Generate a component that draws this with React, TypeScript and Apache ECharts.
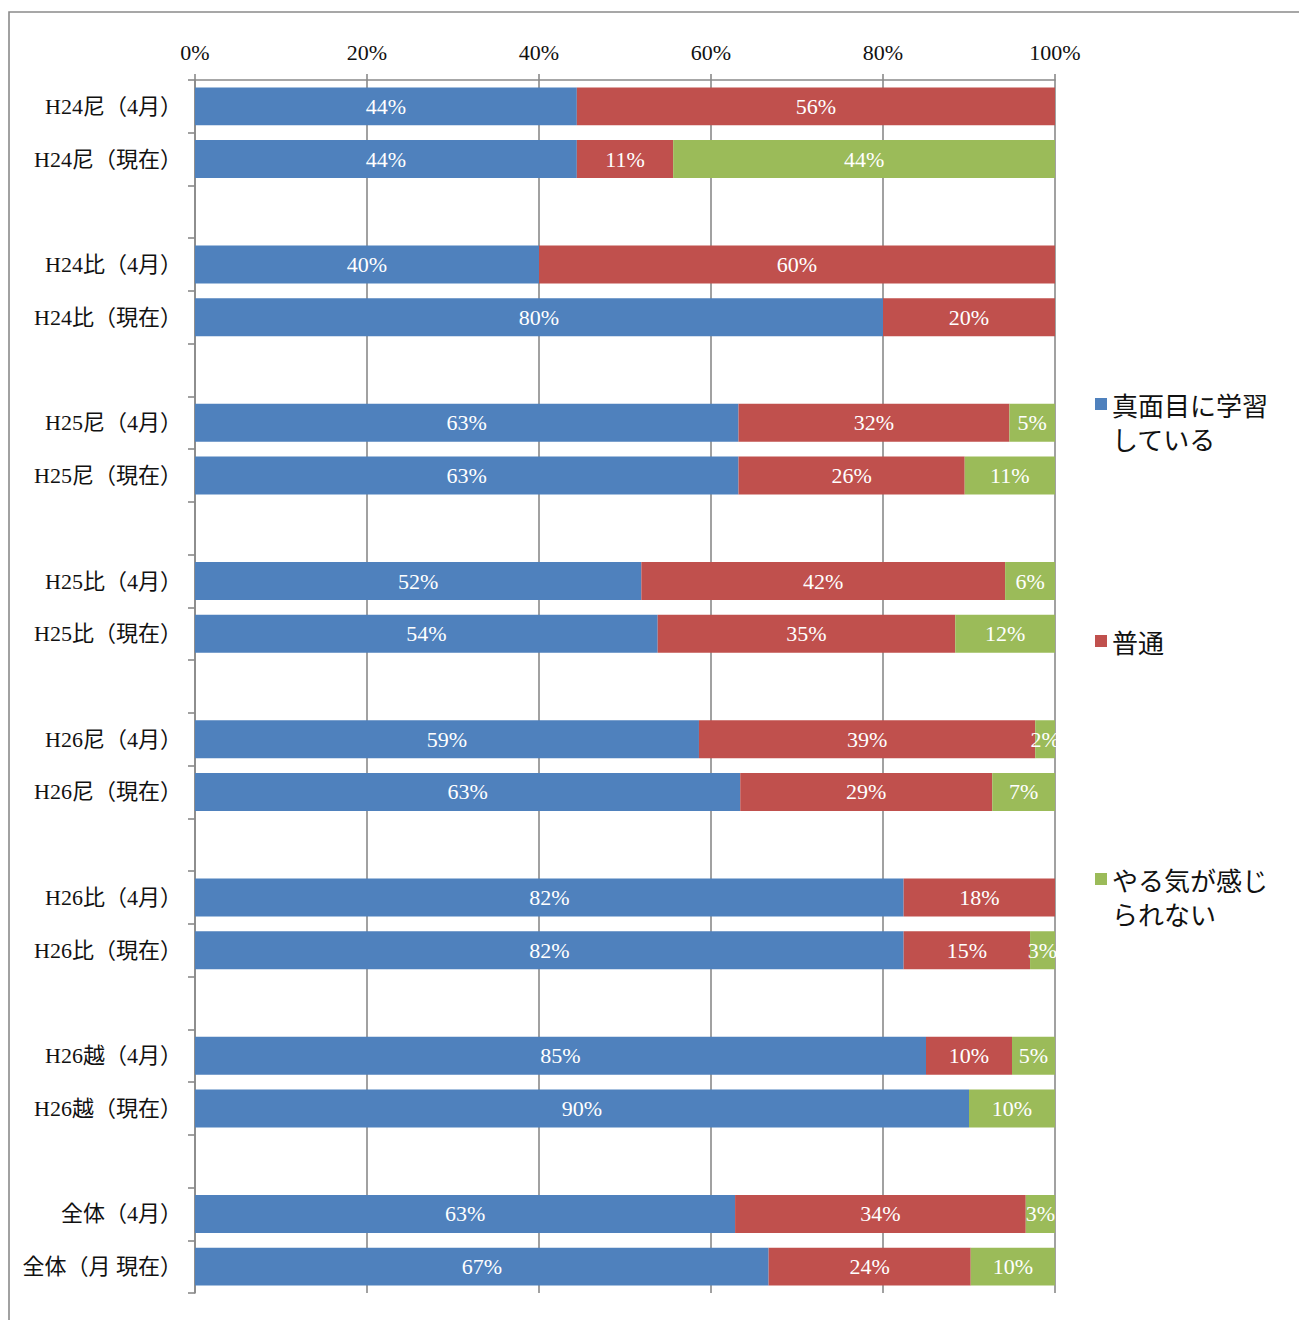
import React, { useEffect, useRef } from "react";
import * as echarts from "echarts";

const categories = [
  "H24尼（4月）", "H24尼（現在）", "",
  "H24比（4月）", "H24比（現在）", " ",
  "H25尼（4月）", "H25尼（現在）", "  ",
  "H25比（4月）", "H25比（現在）", "   ",
  "H26尼（4月）", "H26尼（現在）", "    ",
  "H26比（4月）", "H26比（現在）", "     ",
  "H26越（4月）", "H26越（現在）", "      ",
  "全体（4月）", "全体（月 現在）",
];

const seriesNames = ["真面目に学習している", "普通", "やる気が感じられない"];
const legendLabels = ["\n真面目に学習\nしている", "普通", "\nやる気が感じ\nられない"];

const seriousValues = [44.4, 44.4, null, 40, 80, null, 63.2, 63.2, null, 51.9, 53.8, null, 58.6, 63.4, null, 82.4, 82.4, null, 85, 90, null, 62.8, 66.7];
const normalValues = [55.6, 11.2, null, 60, 20, null, 31.5, 26.3, null, 42.3, 34.6, null, 39.1, 29.3, null, 17.6, 14.7, null, 10, null, null, 33.8, 23.5];
const unmotivatedValues = [null, 44.4, null, null, null, null, 5.3, 10.5, null, 5.8, 11.6, null, 2.3, 7.3, null, null, 2.9, null, 5, 10, null, 3.4, 9.8];

const xTicks = { min: 0, max: 100, interval: 20 };

const colors = ["#4F81BD", "#C0504D", "#9BBB59"];
const serif = '"Liberation Serif", "Noto Sans CJK JP", serif';
const cjk = '"Noto Sans CJK JP", "Liberation Serif", sans-serif';
const gray = "#8a8a8a";

export default function App() {
  const ref = useRef<HTMLDivElement>(null);
  useEffect(() => {
    if (!ref.current) return;
    const chart = echarts.init(ref.current, null, { renderer: "svg" });
    const valuesList = [seriousValues, normalValues, unmotivatedValues];
    const legendTops = [353, 624, 828];
    chart.setOption({
      animation: false,
      color: colors,
      graphic: [
        {
          type: "rect",
          shape: { x: 9, y: 12, width: 1500, height: 1500 },
          style: { fill: "none", stroke: gray, lineWidth: 1.6 },
          silent: true,
        },
      ],
      grid: { left: 195, right: 244, top: 80, bottom: 27, containLabel: false },
      xAxis: {
        type: "value",
        position: "top",
        min: xTicks.min,
        max: xTicks.max,
        interval: xTicks.interval,
        axisLine: { show: true, lineStyle: { color: gray, width: 1.6 } },
        axisTick: { show: true, length: 6, lineStyle: { color: gray, width: 1.6 } },
        splitLine: { show: true, lineStyle: { color: gray, width: 1.6 } },
        axisLabel: {
          formatter: "{value}%",
          fontFamily: serif,
          fontSize: 22,
          color: "#111",
          margin: 17,
        },
      },
      yAxis: {
        type: "category",
        inverse: true,
        data: categories,
        axisLine: { show: true, lineStyle: { color: gray, width: 1.6 } },
        axisTick: { show: true, length: 7, interval: 0, lineStyle: { color: gray, width: 1.6 } },
        axisLabel: {
          interval: 0,
          fontFamily: serif,
          fontSize: 22,
          color: "#111",
          margin: 13,
        },
      },
      legend: seriesNames.map((name, i) => ({
        data: [name],
        orient: "vertical",
        left: 1095,
        top: legendTops[i],
        padding: 0,
        icon: "rect",
        itemWidth: 12,
        itemHeight: 12,
        selectedMode: false,
        formatter: () => legendLabels[i],
        textStyle: {
          fontFamily: cjk,
          fontSize: 26,
          lineHeight: 34,
          color: "#111",
        },
      })),
      series: seriesNames.map((name, i) => ({
        name,
        type: "bar",
        stack: "total",
        data: valuesList[i],
        barCategoryGap: "28%",
        itemStyle: { color: colors[i] },
        label: {
          show: true,
          position: "inside",
          color: "#fff",
          fontFamily: serif,
          fontSize: 22,
          formatter: (p: any) => (p.value == null ? "" : Math.round(p.value) + "%"),
        },
      })),
    });
    return () => chart.dispose();
  }, []);
  return (
    <div
      ref={ref}
      style={{ position: "fixed", left: 0, top: 0, width: 1299, height: 1320, background: "#fff" }}
    />
  );
}
